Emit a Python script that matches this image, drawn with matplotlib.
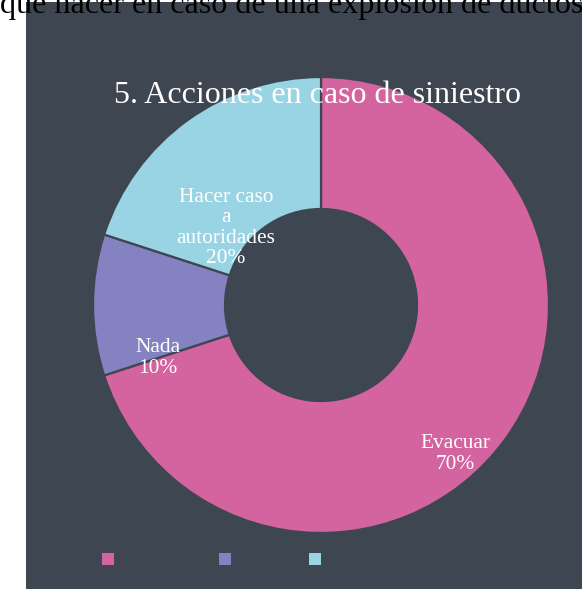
import matplotlib
matplotlib.use("Agg")
import matplotlib.pyplot as plt
from matplotlib.patches import Rectangle, Patch

# Data
categories = ["Evacuar", "Nada", "Hacer caso\na\nautoridades"]
legend_names = ["Evacuar", "Nada", "Hacer caso a autoridades"]
values = [70, 10, 20]
colors = ["#d3649f", "#8482c0", "#98d4e3"]

header = "qué hacer en caso de una explosión de ductos"
title = "5. Acciones en caso de siniestro"

BG = "#3e4651"
W, H = 582, 589

plt.rcParams["font.family"] = ["Liberation Serif", "DejaVu Serif"]

fig = plt.figure(figsize=(W / 100, H / 100), dpi=100, facecolor="white")

# dark panel behind the chart
fig.patches.append(Rectangle((26 / W, 0), 1 - 26 / W, (H - 2) / H,
                             transform=fig.transFigure, facecolor=BG,
                             edgecolor="none", zorder=-5))

# page header text above the panel
fig.text(0 / W, 1 - 13.5 / H, header, ha="left", va="baseline",
         fontsize=23.1, color="black", zorder=5)

# donut
cx, cy, R, r_in = 321, 305, 228, 96
ax = fig.add_axes([(cx - R) / W, (H - cy - R) / H, 2 * R / W, 2 * R / H])
ax.set_zorder(1)
ax.pie(values, colors=colors, startangle=90, counterclock=False, radius=1,
       wedgeprops=dict(width=(R - r_in) / R, edgecolor=BG, linewidth=1.6))
ax.set_xlim(-1, 1)
ax.set_ylim(-1, 1)
ax.axis("off")

# data labels
label_px = [(455, 454), (158, 358), (226, 228)]
for (px, py), cat, v in zip(label_px, categories, values):
    ax.text((px - cx) / R, (cy - py) / R, f"{cat}\n{v}%", ha="center",
            va="center", color="white", fontsize=15.4, linespacing=1.08)

fig.text(318 / W, 1 - 103 / H, title, ha="center", va="baseline",
         fontsize=23, color="white", zorder=6)

# legend (labels blend into the panel)
handles = [Patch(facecolor=c, edgecolor="none") for c in colors]
leg = fig.legend(handles, legend_names,
                 ncol=3, loc="center left",
                 bbox_to_anchor=(102 / W, 1 - 560 / H), frameon=False,
                 prop={"family": "DejaVu Sans", "size": 13.55},
                 handlelength=0.638, handleheight=0.638,
                 handletextpad=0.4, columnspacing=1.12, borderpad=0,
                 borderaxespad=0)
for t in leg.get_texts():
    t.set_color(BG)

fig.savefig("out.png", dpi=100, facecolor="white")
